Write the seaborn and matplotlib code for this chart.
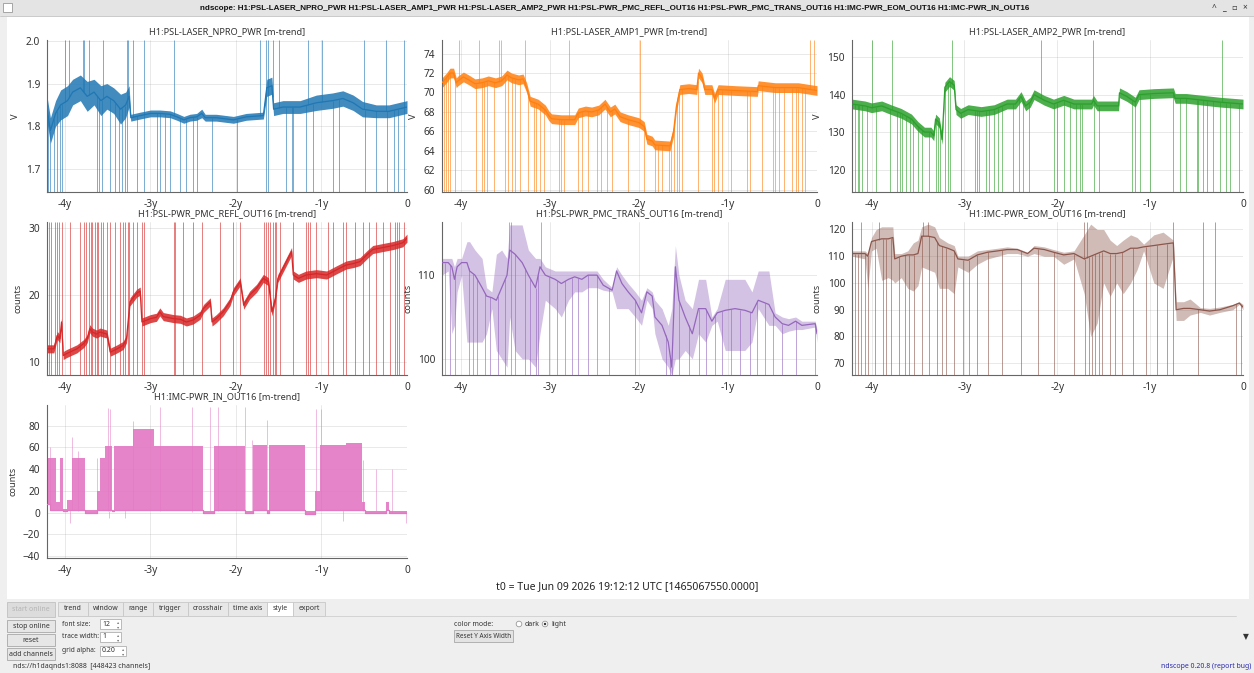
import numpy as np
import matplotlib
matplotlib.use("Agg")
import matplotlib.pyplot as plt
import seaborn as sns
from matplotlib.patches import Rectangle, Circle

W, H = 1254, 673

# =========================
# Data (time in years before t0)
# =========================
CHANNELS = ["H1:PSL-LASER_NPRO_PWR", "H1:PSL-LASER_AMP1_PWR", "H1:PSL-LASER_AMP2_PWR",
            "H1:PSL-PWR_PMC_REFL_OUT16", "H1:PSL-PWR_PMC_TRANS_OUT16",
            "H1:IMC-PWR_EOM_OUT16", "H1:IMC-PWR_IN_OUT16"]
UNITS = ["V", "V", "V", "counts", "counts", "counts", "counts"]
XTICKS = [-4, -3, -2, -1, 0]
XTICKLABELS = ["-4y", "-3y", "-2y", "-1y", "0"]

# --- NPRO ---
t1 = [-4.21, -4.17, -4.11, -4.05, -3.97, -3.91, -3.82, -3.74, -3.66, -3.58,
      -3.51, -3.43, -3.35, -3.29, -3.25, -3.23, -3.12, -3.00, -2.89, -2.77,
      -2.69, -2.61, -2.54, -2.46, -2.40, -2.36, -2.23, -2.03, -1.88, -1.68,
      -1.64, -1.58, -1.56, -1.45, -1.25, -1.06, -0.87, -0.75, -0.63, -0.52,
      -0.36, -0.21, 0.00]
m1 = [1.84, 1.79, 1.83, 1.85, 1.86, 1.88, 1.89, 1.87, 1.88, 1.86,
      1.87, 1.86, 1.84, 1.85, 1.87, 1.82, 1.825, 1.83, 1.83, 1.828,
      1.822, 1.815, 1.82, 1.822, 1.83, 1.82, 1.82, 1.815, 1.822, 1.825,
      1.89, 1.895, 1.84, 1.845, 1.845, 1.855, 1.86, 1.865, 1.855, 1.84,
      1.835, 1.835, 1.845]
w1 = [0.03, 0.03, 0.03, 0.035, 0.035, 0.03, 0.03, 0.035, 0.03, 0.035,
      0.03, 0.03, 0.035, 0.03, 0.025, 0.008, 0.008, 0.008, 0.008, 0.008,
      0.008, 0.008, 0.008, 0.008, 0.01, 0.008, 0.008, 0.008, 0.008, 0.008,
      0.02, 0.02, 0.015, 0.015, 0.015, 0.018, 0.018, 0.018, 0.018, 0.018,
      0.015, 0.015, 0.015]
dn1 = [-4.20, -4.17, -4.13, -4.09, -4.06, -4.04, -3.62, -3.60, -3.57, -3.47, -3.41,
       -3.37, -3.33, -3.30, -3.28, -3.16, -3.07, -2.92, -2.89, -2.83, -2.77, -2.65,
       -2.59, -2.50, -2.46, -2.28, -1.99, -1.65, -1.62, -1.41, -1.35, -1.33, -1.18,
       -1.10, -0.87, -0.79, -0.49, -0.36, -0.23, -0.15, -0.11, -0.03]
up1 = [-4.00, -3.95, -3.79, -3.78, -3.72, -3.55, -3.28, -3.26, -3.20, -3.07, -2.73,
       -1.72, -1.65, -1.62, -1.57, -1.50, -1.16, -0.99, -0.50, -0.24, -0.03]

# --- AMP1 ---
t2 = [-4.21, -4.16, -4.12, -4.08, -4.05, -4.03, -3.97, -3.91, -3.84, -3.76,
      -3.69, -3.61, -3.54, -3.48, -3.43, -3.35, -3.30, -3.26, -3.22, -3.13,
      -3.05, -3.01, -2.98, -2.87, -2.72, -2.68, -2.60, -2.53, -2.45, -2.38,
      -2.32, -2.27, -2.21, -2.12, -2.00, -1.94, -1.91, -1.85, -1.82, -1.65,
      -1.61, -1.58, -1.54, -1.44, -1.35, -1.33, -1.29, -1.26, -1.18, -1.15,
      -1.11, -0.92, -0.67, -0.66, -0.47, -0.21, 0.00]
m2 = [71.0, 71.5, 72.0, 72.0, 71.0, 71.2, 71.6, 71.3, 70.9, 71.0,
      71.2, 71.0, 71.2, 71.8, 71.5, 71.3, 71.4, 70.5, 69.1, 68.8,
      68.2, 67.6, 67.3, 67.2, 67.2, 67.9, 68.1, 68.0, 68.2, 68.8,
      68.0, 68.3, 67.5, 67.2, 66.9, 66.5, 65.2, 65.0, 64.6, 64.5,
      66.0, 68.5, 70.3, 70.4, 70.3, 72.0, 71.5, 70.3, 70.3, 69.4,
      70.3, 70.2, 70.1, 70.7, 70.5, 70.5, 70.2]
w2 = 0.5
dn2 = [-4.19, -4.16, -4.14, -4.12, -4.06, -3.83, -3.76, -3.74, -3.71, -3.63, -3.50,
       -3.47, -3.42, -3.39, -3.33, -3.24, -3.18, -3.15, -3.11, -3.07, -2.90, -2.87,
       -2.84, -2.68, -2.64, -2.57, -2.47, -2.42, -2.36, -2.30, -2.12, -1.94, -1.82,
       -1.78, -1.74, -1.66, -1.64, -1.60, -1.57, -1.55, -1.52, -1.34, -1.18, -1.16,
       -1.11, -1.07, -0.97, -0.79, -0.75, -0.62, -0.49, -0.47, -0.43, -0.37, -0.28,
       -0.24, -0.21, -0.17, -0.13]
up2 = [-4.02, -3.80, -3.57, -3.55, -3.28, -2.78, -1.99, -0.08, -0.03]

# --- AMP2 ---
t3 = [-4.21, -4.07, -4.00, -3.89, -3.79, -3.68, -3.57, -3.50, -3.43, -3.36,
      -3.33, -3.31, -3.27, -3.24, -3.21, -3.16, -3.11, -3.09, -3.04, -2.96,
      -2.82, -2.68, -2.54, -2.45, -2.39, -2.34, -2.29, -2.25, -2.14, -2.04,
      -1.93, -1.82, -1.63, -1.61, -1.57, -1.34, -1.33, -1.25, -1.16, -1.12,
      -0.96, -0.75, -0.73, -0.61, -0.43, -0.25, 0.00]
m3 = [137.5, 137.0, 136.5, 137.0, 136.0, 135.0, 133.5, 131.5, 130.0, 130.0,
      129.0, 133.5, 132.5, 128.0, 142.0, 143.5, 142.5, 136.0, 135.0, 136.0,
      135.5, 136.0, 137.5, 137.5, 139.5, 137.0, 138.0, 140.0, 138.5, 137.5,
      138.5, 137.5, 137.5, 138.5, 137.0, 137.0, 140.5, 139.5, 138.0, 140.0,
      140.3, 140.5, 139.0, 139.0, 138.5, 138.0, 137.5]
w3 = 1.3
dn3 = [-4.18, -4.15, -4.13, -4.10, -4.05, -3.95, -3.80, -3.73, -3.69, -3.67, -3.63,
       -3.59, -3.55, -3.50, -3.46, -3.38, -3.31, -3.28, -3.26, -3.21, -3.18, -3.16,
       -3.04, -2.89, -2.86, -2.84, -2.77, -2.73, -2.68, -2.64, -2.59, -2.48, -2.41,
       -2.37, -2.30, -2.04, -2.00, -1.93, -1.86, -1.80, -1.75, -1.73, -1.60, -1.55,
       -1.19, -1.16, -1.11, -1.00, -0.75, -0.68, -0.61, -0.50, -0.48, -0.43, -0.39,
       -0.32, -0.25, -0.18, -0.14, -0.04]
up3 = [-3.99, -3.78, -3.13, -2.18, -1.61, -0.23]

# --- PMC REFL ---
t4 = [-4.21, -4.13, -4.11, -4.09, -4.06, -4.04, -4.02, -3.98, -3.86, -3.78,
      -3.74, -3.71, -3.68, -3.63, -3.59, -3.51, -3.47, -3.39, -3.32, -3.28,
      -3.24, -3.16, -3.12, -3.10, -3.00, -2.93, -2.89, -2.85, -2.73, -2.65,
      -2.58, -2.50, -2.42, -2.38, -2.30, -2.28, -2.23, -2.15, -2.07, -2.03,
      -1.95, -1.91, -1.84, -1.76, -1.68, -1.62, -1.58, -1.54, -1.51, -1.45,
      -1.39, -1.35, -1.33, -1.27, -1.18, -1.06, -0.94, -0.82, -0.71, -0.63,
      -0.55, -0.47, -0.40, -0.32, -0.16, -0.05, 0.00]
m4 = [12.0, 12.0, 13.0, 14.0, 13.5, 16.0, 11.0, 11.3, 12.0, 12.8,
      13.5, 15.0, 14.5, 14.2, 14.5, 14.2, 11.5, 12.0, 12.5, 13.5,
      19.0, 20.3, 20.6, 16.0, 16.5, 16.7, 17.5, 16.8, 16.5, 16.4,
      16.0, 16.3, 17.0, 18.0, 19.0, 16.0, 16.5, 17.5, 19.0, 20.5,
      22.0, 18.5, 20.0, 21.0, 22.5, 22.0, 17.5, 19.5, 22.5, 24.0,
      25.5, 26.5, 23.0, 22.5, 23.0, 23.2, 23.0, 23.8, 24.5, 24.7,
      25.0, 26.0, 26.8, 27.0, 27.4, 27.8, 28.5]
w4 = 0.6
spk4 = [-4.19, -4.16, -4.12, -4.09, -4.07, -4.04, -3.94, -3.82, -3.78, -3.75, -3.72,
        -3.70, -3.68, -3.65, -3.63, -3.61, -3.58, -3.55, -3.51, -3.47, -3.41, -3.36,
        -3.32, -3.30, -3.26, -3.25, -3.21, -3.16, -3.10, -3.07, -2.73, -2.71, -2.62,
        -2.50, -2.40, -2.19, -2.03, -1.95, -1.67, -1.65, -1.62, -1.60, -1.57, -1.54,
        -1.53, -1.49, -1.33, -1.18, -1.16, -1.13, -1.06, -0.92, -0.86, -0.75, -0.71,
        -0.61, -0.51, -0.44, -0.36, -0.28, -0.20, -0.14, -0.12, -0.09, -0.03]

# --- PMC TRANS (mean, min, max) ---
t5 = [-4.21, -4.14, -4.10, -4.07, -4.04, -3.99, -3.93, -3.90, -3.84, -3.76,
      -3.71, -3.65, -3.60, -3.54, -3.48, -3.45, -3.39, -3.31, -3.24, -3.16,
      -3.11, -3.05, -2.94, -2.87, -2.79, -2.72, -2.64, -2.57, -2.47, -2.40,
      -2.30, -2.25, -2.19, -2.12, -2.04, -1.97, -1.91, -1.85, -1.82, -1.74,
      -1.67, -1.63, -1.59, -1.55, -1.48, -1.40, -1.33, -1.25, -1.18, -1.12,
      -1.03, -0.92, -0.81, -0.73, -0.66, -0.54, -0.47, -0.39, -0.32, -0.24,
      -0.17, -0.02, 0.00]
m5 = [111.5, 111.5, 111.0, 109.5, 111.0, 111.5, 111.5, 110.5, 110.0, 108.5,
      107.5, 107.3, 107.0, 108.5, 110.0, 113.0, 112.5, 111.5, 110.0, 108.5,
      111.0, 110.0, 109.5, 109.0, 109.5, 109.8, 109.5, 110.0, 110.0, 108.8,
      108.2, 110.5, 109.0, 108.0, 107.0, 105.5, 108.0, 107.5, 105.0, 104.0,
      102.0, 99.0, 111.0, 107.0, 105.0, 103.0, 106.0, 106.0, 104.5, 105.5,
      105.8, 106.0, 105.8, 105.5, 107.0, 106.5, 105.0, 104.2, 104.0, 104.5,
      104.0, 104.2, 103.0]
hi5 = [112, 112, 112, 111, 112, 112, 114, 114, 113, 112,
       108.5, 108, 112.5, 113, 112, 116, 116, 116, 113, 112,
       112, 111, 110.5, 110.5, 110.5, 110.5, 110.5, 110.5, 110.5, 109.5,
       108.5, 111, 110, 109, 108, 107, 108.5, 108, 107, 106,
       104, 106, 113.5, 110, 107, 106, 109.5, 109.5, 105, 106,
       109.5, 109.5, 109.5, 108, 110.5, 110.5, 105.5, 105, 104.8, 105,
       104.5, 104.5, 103.5]
lo5 = [110, 110.5, 103, 104, 108, 110, 102, 102, 102, 102,
       103, 106, 101, 100, 99, 105, 101, 100, 100, 99,
       103, 107, 106, 105, 107, 108, 108, 108.5, 108.5, 108.2,
       108, 106, 106, 106, 105, 104, 107, 106, 103, 100,
       99, 98, 100, 100, 101, 100, 103, 102, 104, 104.5,
       101, 101, 101, 102, 106, 104, 104, 103, 103.3, 103.5,
       103.5, 103.8, 102]
dn5 = [-4.18, -4.12, -4.06, -3.91, -3.86, -3.82, -3.73, -3.67, -3.58, -3.50, -3.43,
       -3.39, -3.28, -3.22, -3.16, -3.13, -3.01, -2.92, -2.83, -2.75, -2.68, -2.57,
       -2.47, -2.34, -2.04, -1.70, -1.65, -1.63, -1.55, -1.44, -1.33, -1.25, -1.14,
       -1.07, -0.97, -0.86, -0.75, -0.67, -0.58, -0.49, -0.39, -0.24, -0.02]
up5 = [-3.46, -3.43, -3.10]

# --- EOM (mean, min, max) ---
t6 = [-4.21, -4.07, -4.04, -4.00, -3.95, -3.89, -3.82, -3.77, -3.75, -3.68,
      -3.61, -3.55, -3.50, -3.46, -3.39, -3.32, -3.27, -3.18, -3.11, -3.07,
      -2.96, -2.86, -2.75, -2.64, -2.54, -2.43, -2.32, -2.25, -2.14, -2.04,
      -1.93, -1.82, -1.71, -1.64, -1.57, -1.50, -1.43, -1.36, -1.29, -1.21,
      -1.14, -1.07, -0.96, -0.86, -0.75, -0.72, -0.64, -0.57, -0.46, -0.36,
      -0.25, -0.11, -0.04, 0.00]
m6 = [111, 111, 110, 115.5, 116, 116.5, 116.5, 117, 109, 110,
      110.5, 110.5, 111, 117.5, 117.5, 117, 114, 113, 112, 109,
      108.5, 110.5, 111.5, 112, 112.5, 112.5, 111, 113, 112.5, 111.5,
      110.5, 111, 109, 110, 111, 112, 111, 111, 111.5, 113,
      113, 113.5, 114, 114.5, 115, 90, 90.5, 90.5, 90, 89.5,
      90, 91.5, 92.5, 91]
hi6 = [112, 112, 111, 117, 120, 121, 121, 121, 111, 111,
       112, 115, 116, 121, 122, 121, 117, 115, 114, 110,
       110, 112, 112.5, 113, 113.5, 113, 111.5, 114, 113.5, 112.5,
       111.5, 112, 118, 122, 120, 120, 116, 114, 116, 118,
       117, 114.5, 118, 119, 116, 93, 93, 94, 90.8, 90.5,
       91, 92, 93, 92]
lo6 = [110, 109, 98, 112, 113, 101, 102, 101, 100, 102,
       98, 97, 99, 106, 105, 104, 98, 98, 96, 106,
       104, 107, 109, 110, 111, 111, 110, 111, 110, 110,
       107, 109, 96, 80, 85, 100, 95, 100, 96, 100,
       105, 112, 100, 98, 110, 86, 86, 88, 89, 88,
       89, 90, 92, 90]
dn6 = [-4.18, -4.15, -4.11, -4.07, -4.04, -3.96, -3.88, -3.84, -3.79, -3.70, -3.64,
       -3.60, -3.54, -3.46, -3.38, -3.29, -3.24, -3.20, -3.11, -3.02, -2.95, -2.86,
       -2.75, -2.59, -2.39, -2.21, -2.04, -1.82, -1.70, -1.66, -1.63, -1.59, -1.55,
       -1.52, -1.43, -1.38, -1.30, -1.18, -1.04, -0.93, -0.82, -0.75, -0.48, -0.07,
       -0.02]
up6 = [-4.11, -3.92, -3.45, -3.39, -1.71, -1.68, -0.75, -0.43, -0.30]

# --- IMC IN (blocks: start time, min, max) ---
t7 = [-4.21, -4.18, -4.11, -4.06, -4.02, -3.98, -3.92, -3.76, -3.63, -3.59,
      -3.53, -3.45, -3.43, -3.20, -2.96, -2.39, -2.26, -1.90, -1.80, -1.64,
      -1.61, -1.19, -1.08, -1.02, -0.71, -0.53, -0.49, -0.24, -0.21, 0.00]
hi7 = [50, 50, 10, 50, 3, 12, 50, 2, 20, 50,
       61, 2, 61, 77, 61, 1, 61, 1, 62, 2,
       62, 1, 20, 62, 64, 10, 1, 10, 1, 1]
lo7 = [8, 2, 2, 2, 1, 2, 2, 0, 2, 2,
       2, 1, 2, 2, 2, 0, 2, 0, 2, 0,
       2, -1, 2, 2, 2, 2, 0, 2, 0, 0]
spk7_t = [-4.18, -3.92, -3.85, -3.63, -3.50, -3.47, -3.20, -2.89, -2.52, -2.30, -2.21,
          -1.89, -1.81, -1.64, -1.07, -1.00, -0.51, -0.36, -0.18,
          -3.94, -3.49, -3.30, -0.75, -0.01]
spk7_v = [60, 70, 57, 50, 96, 95, 84, 97, 97, 97, 97,
          97, 67, 85, 95, 95, 48, 40, 40,
          -10, -5, -5, -8, -10]

# =========================
# Figure
# =========================
sns.set_theme(style="white")
plt.rcParams['font.family'] = ['Noto Sans', 'DejaVu Sans']
pal = sns.color_palette("tab10")
TXT = "#333333"

fig = plt.figure(figsize=(W / 100, H / 100), dpi=100)
bg = fig.add_axes([0, 0, 1, 1], zorder=0)
bg.set_xlim(0, W)
bg.set_ylim(H, 0)
bg.axis("off")


def rect(x0, y0, x1, y1, fc, ec="none", lw=0.6):
    bg.add_patch(Rectangle((x0, y0), x1 - x0, y1 - y0, fc=fc, ec=ec, lw=lw))


def label(x, y, s, size=5, color=TXT, ha="left", **kw):
    bg.text(x, y, s, fontsize=size, color=color, ha=ha, va="center", **kw)


def px_axes(x0, y0, x1, y1):
    return fig.add_axes([x0 / W, 1 - y1 / H, (x1 - x0) / W, (y1 - y0) / H], zorder=2)


def setup(ax, i, ylim, yticks, ytl=None):
    ax.set_facecolor("none")
    ax.set_xlim(-4.21, 0)
    ax.set_ylim(*ylim)
    ax.set_xticks(XTICKS)
    ax.set_xticklabels(XTICKLABELS)
    ax.set_yticks(yticks)
    if ytl is not None:
        ax.set_yticklabels(ytl)
    ax.grid(True, color="#808080", alpha=0.2, lw=0.6)
    for s in ["top", "right"]:
        ax.spines[s].set_visible(False)
    for s in ["left", "bottom"]:
        ax.spines[s].set_color("#666666")
        ax.spines[s].set_linewidth(0.8)
    ax.tick_params(labelsize=7.3, colors=TXT, length=3, width=0.6, pad=2)
    ax.set_title(f"{CHANNELS[i]} [m-trend]", fontsize=6.6, color=TXT, pad=4)
    ax.set_ylabel(UNITS[i], fontsize=6.6, color=TXT, labelpad=4)
    ax.set_xlabel("")


def spikes(ax, ts, tt, mm, color, up):
    lo, hi = ax.get_ylim()
    base = np.interp(ts, tt, mm)
    ax.vlines(ts, base, hi if up else lo, color=color, lw=0.7, alpha=0.6, zorder=1)


# window background
rect(0, 0, W, H, "#efefef")
rect(7, 17, 1249, 599, "white")
rect(0, 0, W, 16, "#e4e4e4")
bg.plot([0, W], [16, 16], color="#c4c4c4", lw=0.6)
rect(3, 3, 12, 12, "white", "#999999")
label(615, 8, "ndscope: " + " ".join(CHANNELS), size=5.8, color="#111111", ha="center",
      fontweight="bold", family=["Liberation Sans", "DejaVu Sans"])
for x, s in [(1214, "^"), (1224, "_"), (1234, "▫"), (1245, "×")]:
    label(x, 8, s, size=6, color="#333333", ha="center")

# --- panels ---
boxes = [(47, 40, 407, 192), (442, 40, 817, 192), (852, 40, 1243, 192),
         (47, 222, 407, 375), (442, 222, 817, 375), (852, 222, 1243, 375),
         (47, 405, 407, 558)]
axes = [px_axes(*b) for b in boxes]

# band channels (mean +/- spread)
band_sets = [
    (t1, m1, np.array(w1), dn1, up1, (1.646, 2.002), [1.7, 1.8, 1.9, 2.0], ["1.7", "1.8", "1.9", "2.0"]),
    (t2, m2, w2, dn2, up2, (59.76, 75.4), list(range(60, 75, 2)), None),
    (t3, m3, w3, dn3, up3, (114.0, 154.6), [120, 130, 140, 150], None),
    (t4, m4, w4, spk4, spk4, (8.1, 30.9), [10, 20, 30], None),
]
for i, (tt, mm, ww, dn, up, ylim, yt, ytl) in enumerate(band_sets):
    ax = axes[i]
    setup(ax, i, ylim, yt, ytl)
    c = pal[i]
    spikes(ax, dn, tt, mm, c, up=False)
    spikes(ax, up, tt, mm, c, up=True)
    mm_a = np.array(mm)
    ax.fill_between(tt, mm_a - ww, mm_a + ww, color=c, alpha=0.85, lw=0, zorder=2)
    sns.lineplot(x=tt, y=mm, ax=ax, color=c, lw=0.9, estimator=None, sort=False, zorder=3)

# min/max channels
mm_sets = [
    (4, t5, m5, lo5, hi5, dn5, up5, (98.07, 116.35), [100, 110]),
    (5, t6, m6, lo6, hi6, dn6, up6, (65.6, 122.8), [70, 80, 90, 100, 110, 120]),
]
for i, tt, mm, lo, hi, dn, up, ylim, yt in mm_sets:
    ax = axes[i]
    setup(ax, i, ylim, yt)
    c = pal[i]
    spikes(ax, dn, tt, mm, c, up=False)
    spikes(ax, up, tt, mm, c, up=True)
    ax.fill_between(tt, lo, hi, color=c, alpha=0.4, lw=0, zorder=2)
    sns.lineplot(x=tt, y=mm, ax=ax, color=c, lw=0.9, estimator=None, sort=False, zorder=3)

# IMC IN
ax = axes[6]
setup(ax, 6, (-41.8, 99.0), [-40, -20, 0, 20, 40, 60, 80])
c = pal[6]
base7 = np.interp(spk7_t, t7, lo7)
ax.vlines(spk7_t, base7, spk7_v, color=c, lw=0.7, alpha=0.5, zorder=1)
ax.fill_between(t7, lo7, hi7, step="post", color=c, alpha=0.9, lw=0, zorder=2)
sns.lineplot(x=t7, y=lo7, ax=ax, color=c, lw=0.9, estimator=None, sort=False,
             drawstyle="steps-post", zorder=3)

# t0 line
label(627, 587, "t0 = Tue Jun 09 2026 19:12:12 UTC [1465067550.0000]", size=7.5,
      color="#222222", ha="center")

# =========================
# Control panel
# =========================
rect(7, 602, 55, 617, "#dcdcdc", "#c0c0c0")
label(31, 609.5, "start online", color="#b5b5b5", ha="center")
for y0, y1, s in [(620, 632, "stop online"), (634, 646, "reset"), (648, 660, "add channels")]:
    rect(7, y0, 55, y1, "#e6e6e6", "#a8a8a8")
    label(31, (y0 + y1) / 2, s, ha="center")

tabs = [("trend", 58, 88), ("window", 88, 123), ("range", 123, 153), ("trigger", 153, 188),
        ("crosshair", 188, 228), ("time axis", 228, 267), ("style", 267, 293), ("export", 293, 325)]
for s, x0, x1 in tabs:
    rect(x0, 602, x1, 616, "white" if s == "style" else "#e8e8e8", "#c8c8c8")
    label((x0 + x1) / 2, 609, s, ha="center")
bg.plot([325, 1236], [615.5, 615.5], color="#cfcfcf", lw=0.6)

for y, s in [(624, "font size:"), (637, "trace width:"), (651, "grid alpha:")]:
    label(62, y, s, size=4.8)
for y0, y1, x1, s in [(619, 629, 121, "12"), (632, 642, 121, "1"), (646, 656, 126, "0.20")]:
    rect(100, y0, x1, y1, "white", "#b0b0b0")
    label(102, (y0 + y1) / 2, s)
    label(x1 - 3, (y0 + y1) / 2, "▴\n▾", size=3.2, color="#777777", ha="center", linespacing=0.8)

label(454, 624, "color mode:")
bg.add_patch(Circle((519, 624), 2.8, fc="white", ec="#999999", lw=0.6))
label(525, 624, "dark")
bg.add_patch(Circle((545, 624), 2.8, fc="white", ec="#999999", lw=0.6))
bg.add_patch(Circle((545, 624), 1.2, fc="#333333", ec="none"))
label(551, 624, "light")
rect(454, 630, 513, 642, "#e3e3e3", "#a8a8a8")
label(483.5, 636, "Reset Y Axis Width", size=4.6, ha="center")
label(1246, 638, "▼", size=5.5, color="#333333", ha="center")

label(13, 667, "nds://h1daqnds1:8088  [448423 channels]")
label(1251, 667, "ndscope 0.20.8 (report bug)", color="#2a2ab0", ha="right")

fig.savefig("out.png", dpi=100, facecolor="#efefef")
